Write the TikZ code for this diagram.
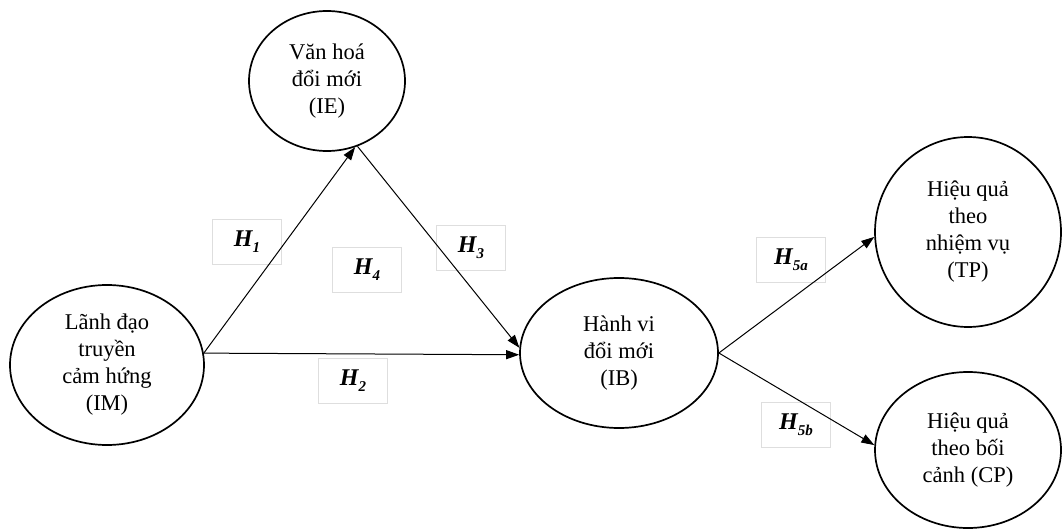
\documentclass[tikz,border=0pt]{standalone}
\usepackage{fontspec}
\setmainfont{Liberation Serif}
\usetikzlibrary{shapes.geometric,arrows.meta}
\tikzset{
  construct/.style={draw, ellipse, line width=1.7pt, inner sep=0pt, align=center,
    font=\fontsize{22.5}{27}\selectfont},
  link/.style={line width=1pt, -{Triangle[length=13pt,width=9pt]}},
  hbox/.style={draw=black!13, line width=0.6pt, minimum width=69pt, minimum height=45pt,
    inner sep=0pt, font=\fontsize{24}{26}\selectfont\bfseries\itshape}
}
\newcommand{\hyp}[1]{H\raisebox{-0.25em}{\fontsize{15}{15}\selectfont #1}}
\begin{document}
\begin{tikzpicture}[x=1pt,y=-1pt]
\useasboundingbox (0,0) rectangle (1062,529);
% label boxes (behind lines)
\node[hbox] (h1) at (247,242) {\hyp{1}};
\node[hbox] (h4) at (367,270) {\hyp{4}};
\node[hbox] (h3) at (471,248) {\hyp{3}};
\node[hbox] (h2) at (353,381) {\hyp{2}};
\node[hbox] (h5a) at (791,260) {\hyp{5a}};
\node[hbox] (h5b) at (796,425) {\hyp{5b}};
% constructs
\node[construct, minimum width=156pt, minimum height=140pt] (IE) at (327,81) {Văn hoá\\đổi mới\\(IE)};
\node[construct, minimum width=194pt, minimum height=160pt] (IM) at (107,365) {Lãnh đạo\\truyền\\cảm hứng\\(IM)};
\node[construct, minimum width=198pt, minimum height=150pt] (IB) at (619,353) {Hành vi\\đổi mới\\(IB)};
\node[construct, minimum width=186pt, minimum height=190pt] (TP) at (968,232) {Hiệu quả\\theo\\nhiệm vụ\\(TP)};
\node[construct, minimum width=186pt, minimum height=156pt] (CP) at (968,450) {Hiệu quả\\theo bối\\cảnh (CP)};
% connectors
\draw[link] (IM.7) -- (IE.-67);
\draw[link] (IM.7) -- (IB.181);
\draw[link] (IE.-65) -- (IB.177);
\draw[link] (IB.east) -- (TP.183);
\draw[link] (IB.east) -- (CP.177);
\end{tikzpicture}
\end{document}
